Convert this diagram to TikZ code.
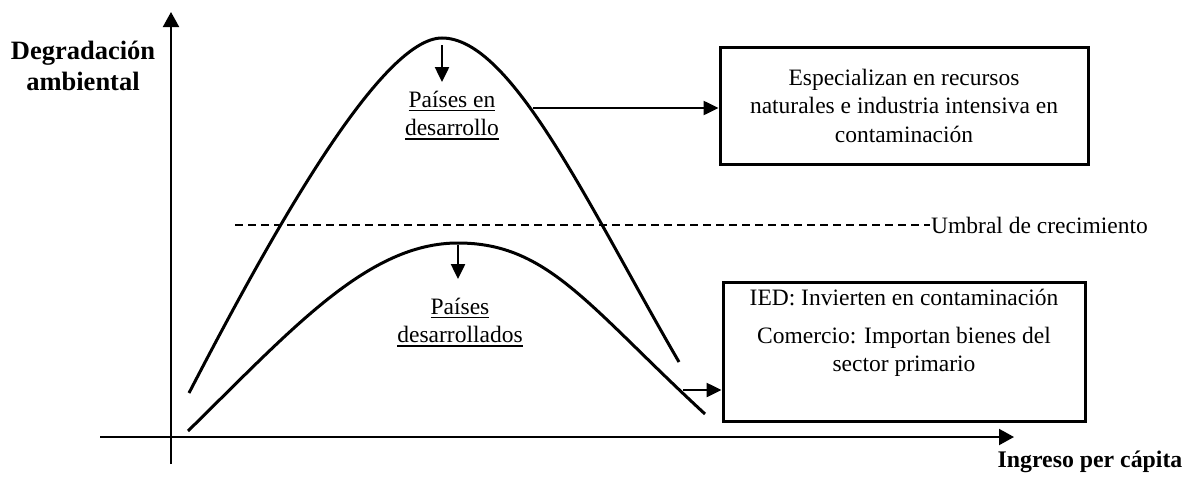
\documentclass[tikz,border=0pt]{standalone}
\usepackage{fontspec}
\setmainfont{Liberation Serif}
\usetikzlibrary{arrows.meta,positioning}

\newcommand{\ulbox}[1]{\leavevmode\vtop{\hbox{#1}\kern2.5pt\hrule height 1.6pt}}

\begin{document}
\begin{tikzpicture}[x=1pt, y=-1pt,
  axis/.style={line width=2pt, -{Triangle[width=16pt,length=15pt]}},
  curve/.style={line width=3pt},
  pointer/.style={line width=2.5pt, -{Triangle[width=14pt,length=15pt]}},
  threshold/.style={line width=2pt, dash pattern=on 8pt off 5pt},
  box/.style={draw, line width=3pt, inner sep=0pt},
  txt/.style={font=\fontsize{23.5}{28.5}\selectfont, align=center, inner sep=0pt},
  axislabel/.style={font=\bfseries\fontsize{26.5}{31}\selectfont, align=center, inner sep=0pt}
  ]
  \useasboundingbox (0,0) rectangle (1188,479);

  % axes
  \coordinate (Origin) at (171,437);
  \coordinate (YTip) at (171,12);
  \coordinate (XTip) at (1014,437);
  \draw[axis] (171,464) -- (YTip);
  \draw[axis] (100,437) -- (XTip);
  \node[axislabel](YLabel) at (83,66){Degradación\\ambiental};
  \node[axislabel, font=\bfseries\fontsize{23.8}{28}\selectfont, anchor=base](XLabel) at (1090,467){Ingreso per cápita};

  % curves
  \coordinate (PeakHi) at (442,38);
  \coordinate (PeakLo) at (458,243);
  \draw[curve] (189,393) .. controls (276,225) and (382,38) .. (PeakHi)
    .. controls (512,38) and (589,207) .. (679,362);
  \draw[curve] (188,431) .. controls (292,329) and (368,243) .. (PeakLo)
    .. controls (548,243) and (588,306) .. (705,414);

  % threshold
  \node[txt, anchor=west, inner xsep=1pt](Umbral) at (930,225){Umbral de crecimiento};
  \draw[threshold] (235,225) -- (Umbral.west);

  % peak labels
  \coordinate (HiTip) at (442,82);
  \coordinate (LoTip) at (458,279);
  \draw[pointer] ([yshift=-7pt]PeakHi) -- (HiTip);
  \draw[pointer] ([yshift=-2pt]PeakLo) -- (LoTip);
  \node[txt, anchor=north](HiLabel) at (452,90.5){\ulbox{Países en}\\\ulbox{desarrollo}};
  \node[txt, anchor=north](LoLabel) at (460,297.5){\ulbox{Países}\\\ulbox{desarrollados}};

  % boxes
  \node[box, minimum width=368pt, minimum height=117pt](BoxHi) at (904,105.5){};
  \node[txt](BoxHiText) at (BoxHi.center){Especializan en recursos\\naturales e industria intensiva en\\contaminación};
  \node[box, minimum width=362pt, minimum height=139pt](BoxLo) at (904,351.5){};
  \node[txt](BoxLoText) at (904,333){IED: Invierten en contaminación\\[9pt]Comercio: Importan bienes del\\sector primario};

  % connectors
  \coordinate (HiOut) at (533,108);
  \coordinate (LoOut) at (683,390);
  \draw[pointer] (HiOut) -- (HiOut -| BoxHi.west);
  \draw[pointer] (LoOut) -- (LoOut -| BoxLo.west);
\end{tikzpicture}
\end{document}
